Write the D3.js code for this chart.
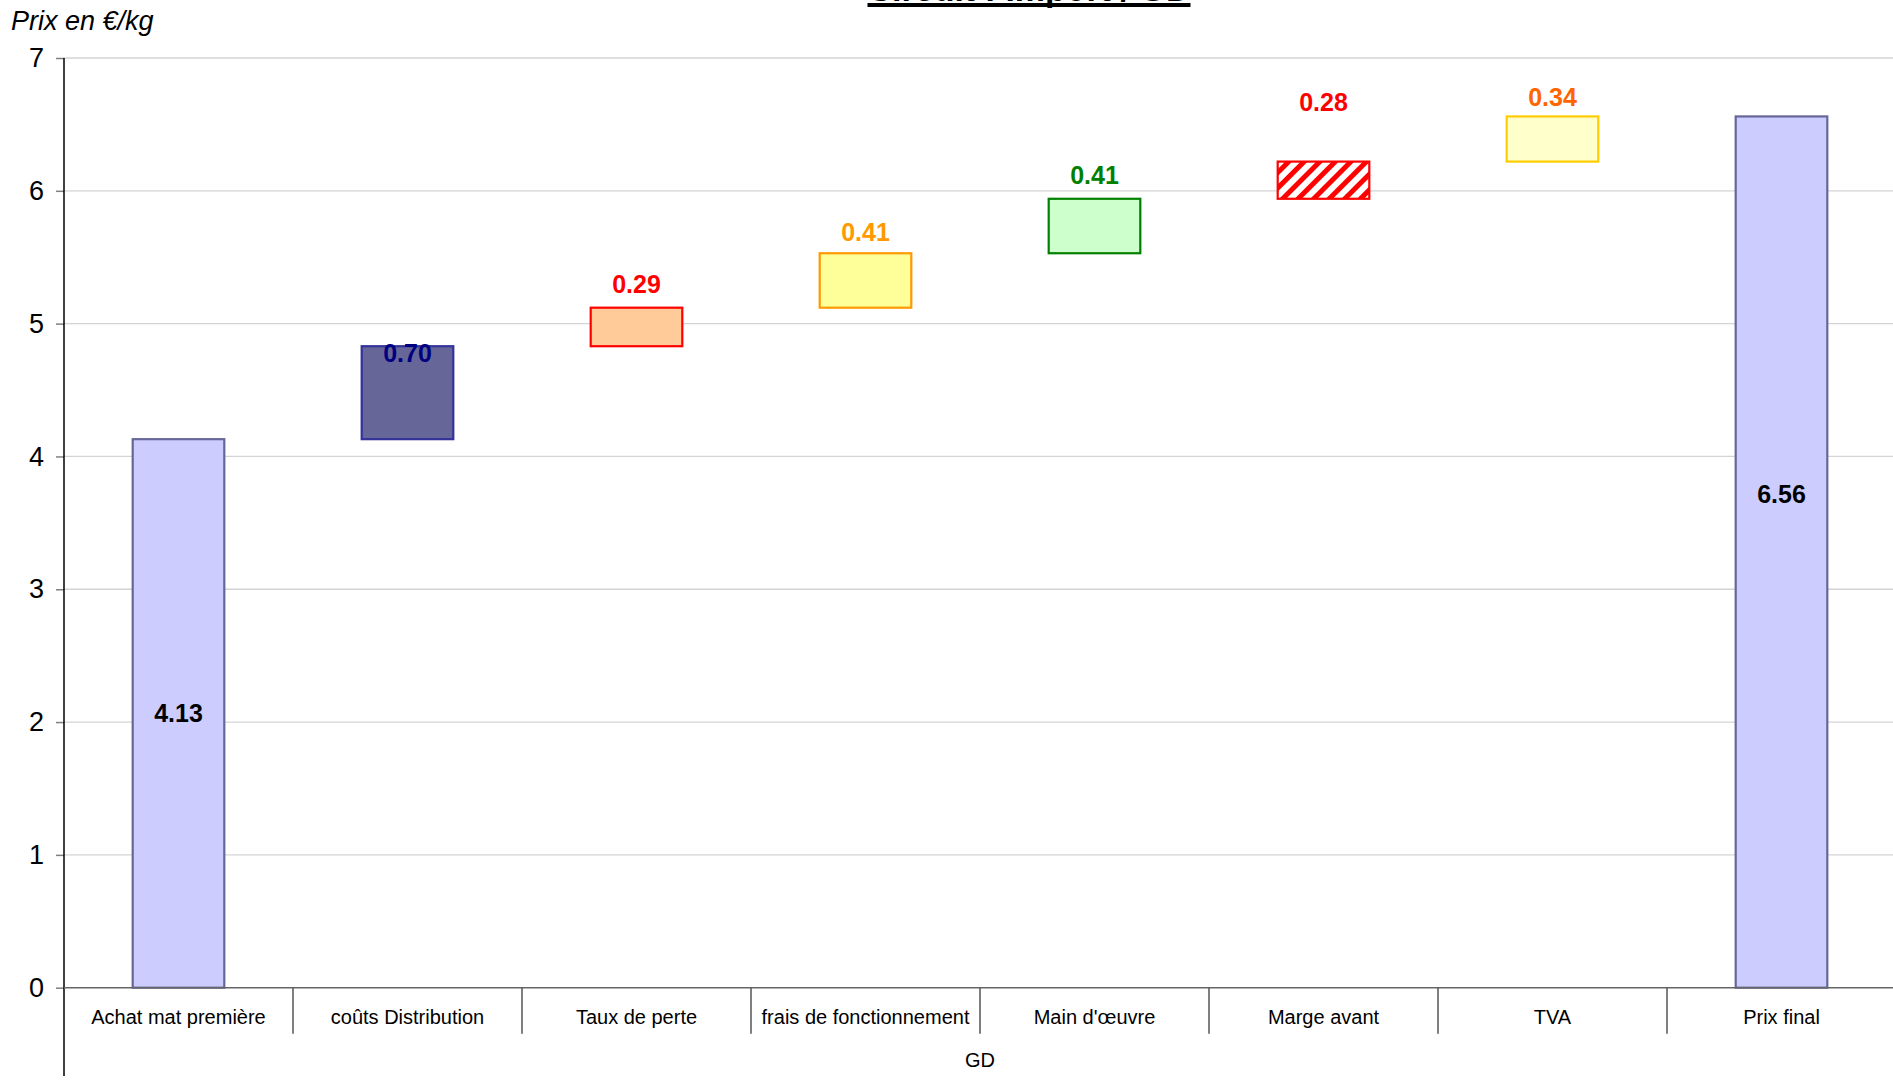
<!DOCTYPE html>
<html>
<head>
<meta charset="utf-8">
<script src="https://cdn.jsdelivr.net/npm/d3@7"></script>
<style>
  html, body { margin: 0; padding: 0; background: #fff; }
  svg { display: block; font-family: "Liberation Sans", Arial, sans-serif; }
</style>
</head>
<body>
<svg id="chart" width="1893" height="1082"></svg>
<script>
// Price build-up steps (€/kg)
const categories = ["Achat mat première", "coûts Distribution", "Taux de perte",
  "frais de fonctionnement", "Main d'œuvre", "Marge avant", "TVA", "Prix final"];
const values = [4.13, 0.70, 0.29, 0.41, 0.41, 0.28, 0.34, 6.56];
const isTotal = [true, false, false, false, false, false, false, true];
const yTicks = [0, 1, 2, 3, 4, 5, 6, 7];
const titleText = "Circuit : Import / GD";
const yTitle = "Prix en €/kg";
const groupLabel = "GD";

// Per-bar appearance: fill, outline, label colour, label placement relative to bar top
const styles = [
  { fill: "#CCCCFF", stroke: "#666699", label: "#000000", pos: "middle" },
  { fill: "#666699", stroke: "#333399", label: "#000080", dy: 7 },
  { fill: "#FFCC99", stroke: "#FF0000", label: "#FF0000", dy: -23 },
  { fill: "#FFFF99", stroke: "#FF9900", label: "#FF9900", dy: -21 },
  { fill: "#CCFFCC", stroke: "#008000", label: "#008000", dy: -24 },
  { fill: "url(#hatch)", stroke: "#FF0000", label: "#FF0000", dy: -59 },
  { fill: "#FFFFCC", stroke: "#FFCC00", label: "#FF6600", dy: -19 },
  { fill: "#CCCCFF", stroke: "#666699", label: "#000000", dy: 378 }
];

// Running base for each floating step
let running = 0;
const bars = values.map((v, i) => {
  let lo, hi;
  if (isTotal[i]) { lo = 0; hi = v; running = v; }
  else { lo = running; hi = running + v; running = hi; }
  return { cat: categories[i], v, lo, hi, st: styles[i] };
});

const svg = d3.select("#chart");
const plotL = 64, plotR = 1896, plotT = 58, plotB = 987.7;

const x = d3.scaleBand().domain(categories).range([plotL, plotR]).padding(0);
const y = d3.scaleLinear().domain([0, 7]).range([plotB, plotT]);
const barW = x.bandwidth() * 0.40;

// Hatch pattern for the margin step
const defs = svg.append("defs");
const pat = defs.append("pattern").attr("id", "hatch")
  .attr("patternUnits", "userSpaceOnUse").attr("width", 11).attr("height", 11)
  .attr("patternTransform", "rotate(45)");
pat.append("rect").attr("width", 11).attr("height", 11).attr("fill", "#fff");
pat.append("rect").attr("x", 0).attr("width", 5).attr("height", 11).attr("fill", "#FF0000");

// Horizontal gridlines
svg.append("g").selectAll("line").data(yTicks.filter(t => t > 0)).join("line")
  .attr("x1", plotL).attr("x2", plotR)
  .attr("y1", d => y(d)).attr("y2", d => y(d))
  .attr("stroke", "#D4D4D4").attr("stroke-width", 1.3);

// Y axis
const yAxis = svg.append("g").attr("transform", `translate(${plotL},0)`)
  .call(d3.axisLeft(y).tickValues(yTicks).tickSize(8).tickPadding(12).tickFormat(d3.format("d")));
yAxis.select(".domain").remove();
yAxis.selectAll(".tick line").attr("stroke", "#808080").attr("stroke-width", 1.5);
yAxis.selectAll(".tick text").attr("font-size", 27).attr("fill", "#000")
  .attr("font-family", "Liberation Sans, Arial, sans-serif");
svg.append("line").attr("x1", plotL).attr("x2", plotL).attr("y1", plotT).attr("y2", 1076)
  .attr("stroke", "#000").attr("stroke-width", 1.5);

// Bars
svg.append("g").selectAll("rect").data(bars).join("rect")
  .attr("x", d => x(d.cat) + (x.bandwidth() - barW) / 2)
  .attr("width", barW)
  .attr("y", d => y(d.hi))
  .attr("height", d => y(d.lo) - y(d.hi))
  .attr("fill", d => d.st.fill)
  .attr("stroke", d => d.st.stroke)
  .attr("stroke-width", 2.2);

// X axis line and category separators
svg.append("line").attr("x1", plotL).attr("x2", plotR).attr("y1", plotB).attr("y2", plotB)
  .attr("stroke", "#666666").attr("stroke-width", 1.6);
svg.append("g").selectAll("line").data(categories.slice(1)).join("line")
  .attr("x1", d => x(d)).attr("x2", d => x(d))
  .attr("y1", plotB).attr("y2", plotB + 46)
  .attr("stroke", "#555555").attr("stroke-width", 1.5);

// Category labels
svg.append("g").selectAll("text").data(categories).join("text")
  .attr("x", d => x(d) + x.bandwidth() / 2)
  .attr("y", plotB + 36)
  .attr("text-anchor", "middle").attr("font-size", 20).attr("fill", "#000")
  .text(d => d);

// Group label
svg.append("text").attr("x", (plotL + plotR) / 2).attr("y", 1067)
  .attr("text-anchor", "middle").attr("font-size", 20).attr("fill", "#000").text(groupLabel);

// Value labels
svg.append("g").selectAll("text").data(bars).join("text")
  .attr("x", d => x(d.cat) + x.bandwidth() / 2)
  .attr("y", d => d.st.pos === "middle" ? (y(d.hi) + y(d.lo)) / 2 : y(d.hi) + d.st.dy)
  .attr("dy", "0.35em")
  .attr("text-anchor", "middle").attr("font-size", 25).attr("font-weight", "bold")
  .attr("fill", d => d.st.label)
  .text(d => d3.format(".2f")(d.v));

// Axis title
svg.append("text").attr("x", 11).attr("y", 30).attr("font-size", 27)
  .attr("font-style", "italic").attr("fill", "#000").text(yTitle);

// Chart title (underlined, bold)
const title = svg.append("text").attr("x", 1029).attr("y", 1)
  .attr("text-anchor", "middle").attr("font-size", 34).attr("font-weight", "bold")
  .attr("fill", "#000").text(titleText);
const tw = title.node().getComputedTextLength();
svg.append("rect").attr("x", 1029 - tw / 2).attr("y", 3).attr("width", tw).attr("height", 4)
  .attr("fill", "#000");
</script>
</body>
</html>
